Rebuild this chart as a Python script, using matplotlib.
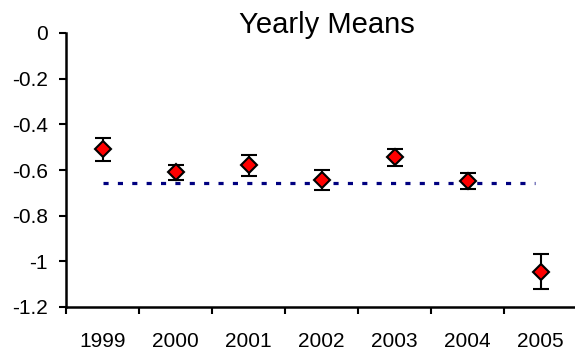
import numpy as np
import matplotlib
matplotlib.use("Agg")
import matplotlib.pyplot as plt

plt.rcParams['font.family'] = ['Liberation Sans', 'DejaVu Sans']

# datos
years = ['1999', '2000', '2001', '2002', '2003', '2004', '2005']
means = [-0.51, -0.61, -0.58, -0.643, -0.545, -0.648, -1.045]
errs = [0.052, 0.033, 0.046, 0.044, 0.037, 0.035, 0.078]

# promedio general (linea punteada)
overall_mean = -0.656
overall_span = [0, 5.92]

fig = plt.figure(figsize=(5.75, 3.54), dpi=100)
ax = fig.add_axes([66 / 575, 47 / 354, 511 / 575, 274 / 354])

x = np.arange(len(years))

ax.plot(overall_span, [overall_mean, overall_mean], color='#000080', lw=2.3,
        linestyle=(0, (1.6, 2.9)), zorder=1)

ax.errorbar(x, means, yerr=errs, fmt='D', color='black', ecolor='black',
            elinewidth=1.5, capsize=5.5, capthick=1.5,
            markersize=8, markerfacecolor='red', markeredgecolor='black',
            markeredgewidth=1.5, zorder=3)

ax.set_xlim(-0.5, len(years) - 0.5)
ax.set_ylim(-1.2, 0)
ax.set_yticks([0, -0.2, -0.4, -0.6, -0.8, -1, -1.2])
ax.set_yticklabels(['0', '-0.2', '-0.4', '-0.6', '-0.8', '-1', '-1.2'])

ax.set_xticks(x)
ax.set_xticklabels(years)
ax.set_xticks(np.arange(len(years)) - 0.5, minor=True)
ax.tick_params(axis='x', which='major', length=0, pad=18, labelsize=15)
ax.tick_params(axis='x', which='minor', length=5, width=1.5, direction='out')
ax.tick_params(axis='y', length=5, width=1.5, direction='out', labelsize=15, pad=8)

for s in ['top', 'right']:
    ax.spines[s].set_visible(False)
for s in ['left', 'bottom']:
    ax.spines[s].set_linewidth(1.8)

# titulo un poco a la derecha del centro, como en el original
ax.set_title('Yearly Means', fontsize=21, x=0.51, y=1.0, pad=0)

fig.savefig('out.png', dpi=100)
